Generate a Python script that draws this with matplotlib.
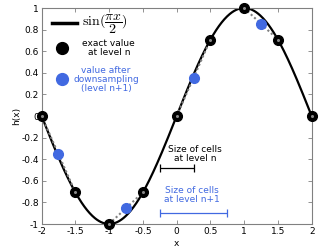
import numpy as np
import matplotlib.pyplot as plt

plt.rcParams['mathtext.fontset'] = 'cm'

# exact values at level n
x_exact = [-2, -1.5, -1, -0.5, 0, 0.5, 1, 1.5, 2]
h_exact = [0, -0.707, -1, -0.707, 0, 0.707, 1, 0.707, 0]
# downsampled values (level n+1)
x_down = [-1.75, -0.75, 0.25, 1.25]
h_down = [-0.354, -0.854, 0.354, 0.854]
# pairs joined by dotted lines
pairs = [(-2, -1.5), (-1, -0.5), (0, 0.5), (1, 1.5)]

blue = '#4169e1'
fs = 6.5

fig = plt.figure(figsize=(3.2, 2.5), dpi=100)
ax = fig.add_axes([0.130, 0.104, 0.844, 0.864])

xs = np.linspace(-2, 2, 400)
ax.plot(xs, np.sin(np.pi * xs / 2), color='black', lw=1.6, zorder=2)
for a, b in pairs:
    ia, ib = x_exact.index(a), x_exact.index(b)
    ax.plot([a, b], [h_exact[ia], h_exact[ib]], color='gray', lw=1.5,
            ls=(0, (1, 1.2)), zorder=3)
ax.plot(x_exact, h_exact, 'o', color='black', ms=7, zorder=4, clip_on=False)
ax.plot(x_exact, h_exact, 'o', color='#888888', ms=1.2, zorder=5, clip_on=False)
ax.plot(x_down, h_down, 'o', color=blue, ms=7, zorder=4)

# cell size bars
ax.errorbar([0], [-0.48], xerr=[[0.25], [0.25]], color='black', lw=0.9,
            capsize=3, capthick=0.9, fmt='none')
ax.errorbar([0.25], [-0.9], xerr=[[0.5], [0.5]], color=blue, lw=0.9,
            capsize=3, capthick=0.9, fmt='none')
ax.text(0.27, -0.35, 'Size of cells\nat level n', ha='center', va='center',
        fontsize=fs, linespacing=1.0)
ax.text(0.23, -0.73, 'Size of cells\nat level n+1', ha='center', va='center',
        fontsize=fs, linespacing=1.0, color=blue)

# legend drawn by hand
tr = ax.transAxes
ax.plot([0.038, 0.130], [0.931, 0.931], color='black', lw=2.5, transform=tr)
ax.text(0.150, 0.925, r'$\mathrm{sin}(\dfrac{\pi x}{2})$', transform=tr,
        fontsize=10, va='center', ha='left')
ax.plot([0.075], [0.815], 'o', color='black', ms=8.5, transform=tr)
ax.text(0.249, 0.817, 'exact value\nat level n', transform=tr, fontsize=fs,
        ha='center', va='center', linespacing=1.0)
ax.plot([0.075], [0.671], 'o', color=blue, ms=8.5, transform=tr)
ax.text(0.238, 0.671, 'value after\ndownsampling\n(level n+1)', transform=tr,
        fontsize=fs, ha='center', va='center', linespacing=1.0, color=blue)

ax.set_xlim(-2, 2)
ax.set_ylim(-1, 1)
ax.set_xticks([-2, -1.5, -1, -0.5, 0, 0.5, 1, 1.5, 2])
ax.set_xticklabels(['-2', '-1.5', '-1', '-0.5', '0', '0.5', '1', '1.5', '2'])
ax.set_yticks([-1, -0.8, -0.6, -0.4, -0.2, 0, 0.2, 0.4, 0.6, 0.8, 1])
ax.set_yticklabels(['-1', '-0.8', '-0.6', '-0.4', '-0.2', '0', '0.2', '0.4',
                    '0.6', '0.8', '1'])
ax.tick_params(direction='in', top=True, right=True, length=3, width=0.6,
               color='gray', labelsize=fs, pad=2)
for s in ax.spines.values():
    s.set_color('gray')
    s.set_linewidth(0.8)
ax.set_xlabel('x', fontsize=fs, labelpad=2)
ax.set_ylabel('h(x)', fontsize=fs, labelpad=0)

fig.savefig('out.png', dpi=100)
